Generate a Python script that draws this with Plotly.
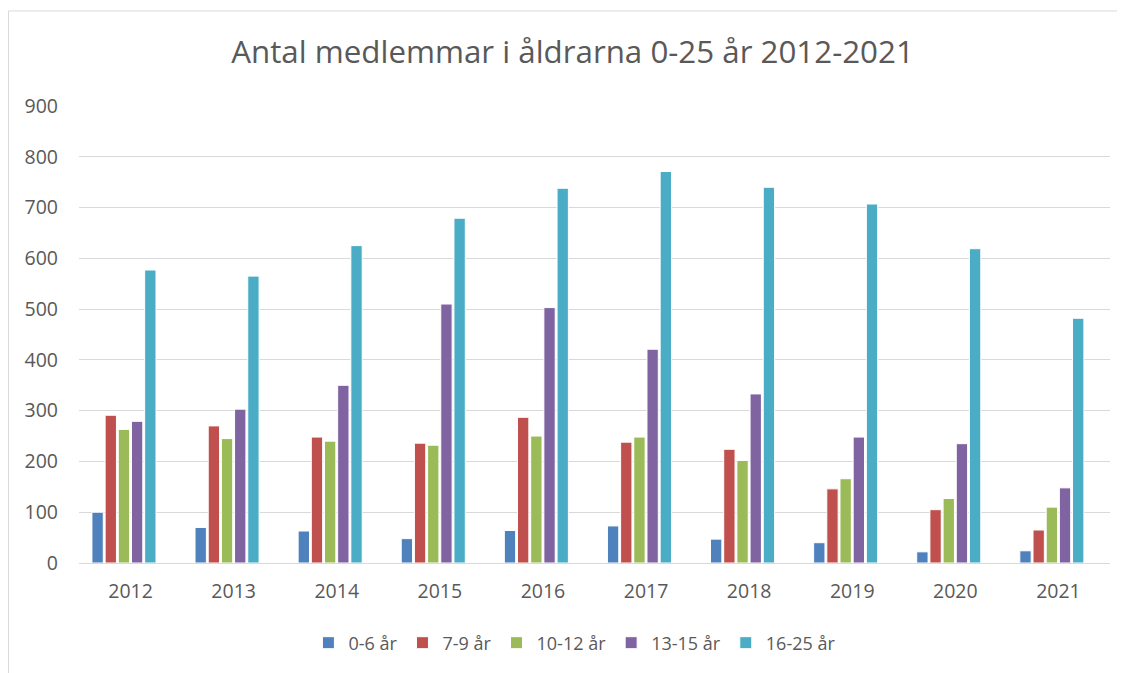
import plotly.graph_objects as go

years = ["2012", "2013", "2014", "2015", "2016", "2017", "2018", "2019", "2020", "2021"]
series_names = ["0-6 år", "7-9 år", "10-12 år", "13-15 år", "16-25 år"]
v_0_6 = [100, 70, 63, 48, 64, 73, 47, 40, 22, 24]
v_7_9 = [291, 270, 248, 236, 287, 238, 224, 146, 105, 65]
v_10_12 = [263, 245, 240, 232, 250, 248, 202, 166, 127, 110]
v_13_15 = [279, 303, 350, 510, 503, 421, 333, 248, 235, 148]
v_16_25 = [577, 565, 625, 679, 738, 771, 740, 707, 619, 482]
v_empty = [None] * 10  # empty sixth series slot, as in the source chart
colors = ["#4F81BD", "#C0504D", "#9BBB59", "#8064A2", "#4BACC6"]
title_text = "Antal medlemmar i åldrarna 0-25 år 2012-2021"
y_ticks = [0, 100, 200, 300, 400, 500, 600, 700, 800, 900]

all_values = [v_0_6, v_7_9, v_10_12, v_13_15, v_16_25]

fig = go.Figure()
for name, vals, col in zip(series_names, all_values, colors):
    fig.add_trace(go.Bar(
        x=years, y=vals, name=name,
        marker=dict(color=col, line=dict(color="white", width=1)),
    ))
fig.add_trace(go.Bar(x=years, y=v_empty, name="", showlegend=False,
                     hoverinfo="skip", marker=dict(color="rgba(0,0,0,0)")))

FONT = "Open Sans"
GREY = "#595959"

fig.update_layout(
    width=1125, height=673,
    paper_bgcolor="white", plot_bgcolor="white",
    margin=dict(l=71, r=23, t=98, b=118),
    barmode="group", bargap=0.233, bargroupgap=0.14,
    font=dict(family=FONT, color=GREY, size=18),
    title=dict(text=title_text, x=0.5018, xanchor="center", y=0.9346, yanchor="middle",
               font=dict(family=FONT, size=31.3, color=GREY)),
    showlegend=True,
    legend=dict(orientation="h", x=0.481, xanchor="center", y=-0.175, yanchor="middle",
                font=dict(family=FONT, size=18, color=GREY),
                itemwidth=30, tracegroupgap=0),
    xaxis=dict(showgrid=False, showline=True, linecolor="#D9D9D9", linewidth=1,
               ticks="", ticklabelstandoff=11, tickfont=dict(size=19.5, color=GREY)),
    yaxis=dict(range=[0, 900], tickvals=y_ticks, showgrid=True, gridcolor="#D9D9D9",
               gridwidth=1, zeroline=False, showline=False, ticks="",
               ticklabelstandoff=20, tickfont=dict(size=19.5, color=GREY)),
    shapes=[dict(type="rect", xref="paper", yref="paper",
                 x0=-0.0684, x1=1.05, y0=-0.35, y1=1.208,
                 line=dict(color="#D9D9D9", width=1), fillcolor="rgba(0,0,0,0)", layer="below")],
)

fig.write_html("out.html")
